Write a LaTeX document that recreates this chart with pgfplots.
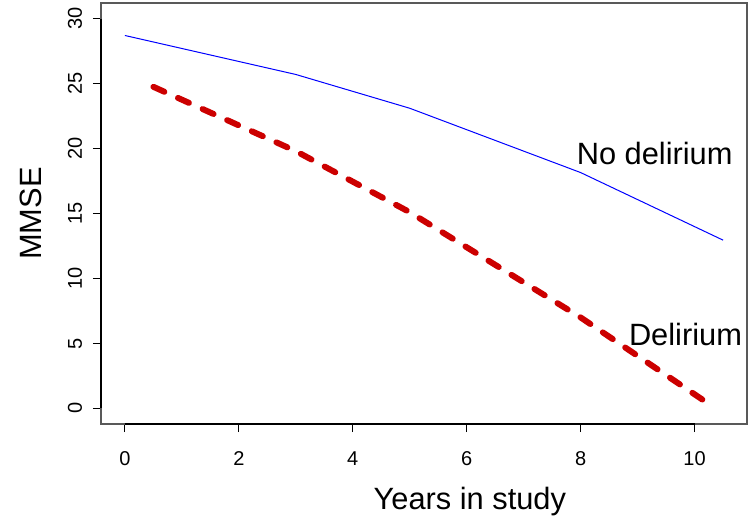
\documentclass[border=0pt]{standalone}
\usepackage{pgfplots}
\pgfplotsset{compat=1.18}
\usepackage{fontspec}
\setmainfont{Liberation Sans}
\definecolor{delred}{HTML}{CC0000}

\begin{document}
\begin{tikzpicture}
\begin{axis}[
  at={(0,0)}, anchor=south west,
  scale only axis, width=323pt, height=210.5pt,
  xmin=-0.42, xmax=10.92, ymin=-1.2, ymax=31.2,
  xtick={0,2,...,10}, ytick={0,5,...,30},
  tick align=outside, xtick pos=bottom, ytick pos=left,
  major tick length=4pt,
  tick style={black, line width=0.5pt},
  axis line style={draw=black!65, line width=0.6pt},
  /pgf/number format/assume math mode=true,
  tick label style={font=\fontsize{10}{12}\selectfont},
  xticklabel style={anchor=center, yshift=-13.5pt},
  yticklabel style={xshift=-9pt, rotate=90, anchor=center},
  xlabel={Years in study}, ylabel={MMSE},
  label style={font=\fontsize{15.4}{18}\selectfont},
  xlabel style={at={(axis description cs:0.571,-0.183)}, anchor=center},
  ylabel style={at={(axis description cs:-0.1084,0.5)}, anchor=center},
  clip=false
]
  % R-style axis lines over the tick range
  \draw[black, line width=0.6pt] (axis cs:0,-1.2) -- (axis cs:10,-1.2);
  \draw[black, line width=0.6pt] (axis cs:-0.42,0) -- (axis cs:-0.42,30);
  % no delirium
  \addplot[blue, line width=0.5pt] coordinates {
    (0,28.7) (3,25.7) (5,23.1) (8,18.15) (10.5,12.95)};
  % delirium
  \addplot[delred, line width=3pt, line cap=round,
    dash pattern=on 6pt off 7.5pt] coordinates {
    (0.5,24.75) (3,19.8) (5,15.1) (8,7.0) (10.35,0.05)};
  \node[font=\fontsize{15.4}{18}\selectfont, inner sep=0pt] at (axis cs:9.30,19.6) {No delirium};
  \node[font=\fontsize{15.4}{18}\selectfont, inner sep=0pt] at (axis cs:9.84,5.68) {Delirium};
\end{axis}
\path[use as bounding box] (-50.5pt,-46pt) rectangle (325pt,212pt);
\end{tikzpicture}
\end{document}
